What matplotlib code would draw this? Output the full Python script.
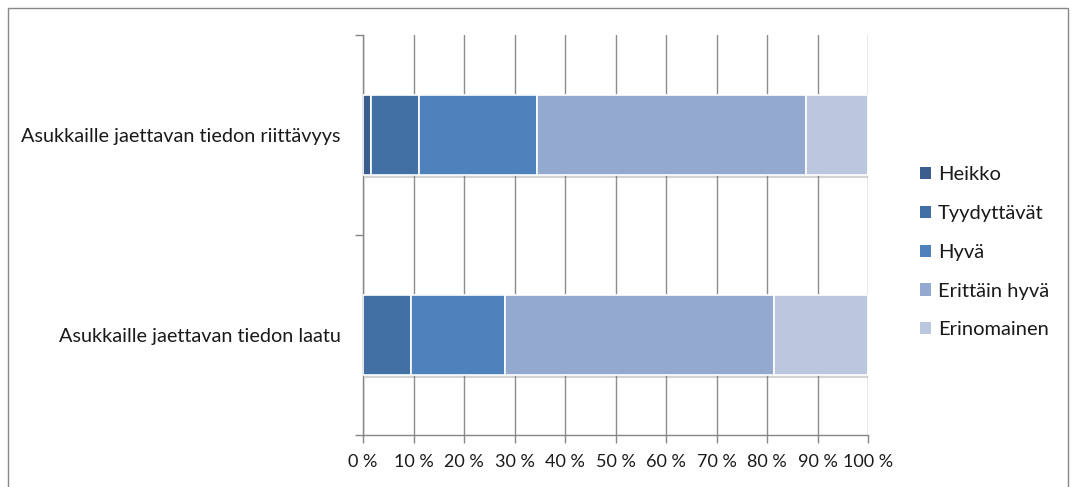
import matplotlib
matplotlib.use('Agg')
import matplotlib.pyplot as plt
import matplotlib.patheffects as pe
from matplotlib.patches import Rectangle, Patch
from matplotlib.ticker import FixedLocator

plt.rcParams['font.family'] = ['Lato', 'DejaVu Sans']

categories = ['Asukkaille jaettavan tiedon laatu',
              'Asukkaille jaettavan tiedon riittävyys']
series = ['Heikko', 'Tyydyttävät', 'Hyvä', 'Erittäin hyvä', 'Erinomainen']
# shares in percent, one list per category (laatu, riittävyys)
values = {
    'Heikko':        [0.0, 1.5],
    'Tyydyttävät':   [9.4, 9.5],
    'Hyvä':          [18.8, 23.4],
    'Erittäin hyvä': [53.2, 53.3],
    'Erinomainen':   [18.6, 12.3],
}
colors = ['#3b5e8e', '#4270a5', '#4f81bd', '#94a9cf', '#bac7df']
xticks = list(range(0, 101, 10))
txt = '#1a1a1a'

fig = plt.figure(figsize=(10.75, 4.87), dpi=100)
ax = fig.add_axes([0.3377, 0.1068, 0.4698, 0.8214])

ypos = list(range(len(categories)))
left = [0.0] * len(categories)
shadow = [pe.SimplePatchShadow(offset=(1.5, -2), shadow_rgbFace='#808080', alpha=0.35), pe.Normal()]
for name, col in zip(series, colors):
    vals = values[name]
    bars = ax.barh(ypos, vals, left=left, height=0.4, color=col, edgecolor='white',
                   linewidth=1.2, zorder=3)
    for b in bars:
        b.set_path_effects(shadow)
    left = [l + v for l, v in zip(left, vals)]

ax.set_xlim(0, 100)
ax.set_ylim(-0.5, len(categories) - 0.5)

ax.set_xticks(xticks)
ax.set_xticklabels([f'{t} %' for t in xticks], fontsize=13, color=txt)
ax.tick_params(axis='x', direction='out', length=5.5, width=1, color='#868686', pad=8)

ax.yaxis.set_major_locator(FixedLocator([-0.5, 0.5, 1.5]))
ax.yaxis.set_major_formatter(plt.NullFormatter())
ax.yaxis.set_minor_locator(FixedLocator(ypos))
ax.set_yticklabels(categories, minor=True, fontsize=14.3, color=txt)
ax.tick_params(axis='y', which='major', direction='out', length=6, width=1, color='#868686')
ax.tick_params(axis='y', which='minor', length=0, pad=16)

ax.grid(axis='x', color='#8c8c8c', linewidth=1, zorder=0)
ax.set_axisbelow(True)
for s in ['top', 'right']:
    ax.spines[s].set_visible(False)
for s in ['left', 'bottom']:
    ax.spines[s].set_color('#868686')
    ax.spines[s].set_linewidth(1)

handles = [Patch(facecolor=c, edgecolor='none') for c in colors]
leg = fig.legend(handles, series, loc='upper left', bbox_to_anchor=(0.848, 0.675),
                 frameon=False, fontsize=14.5, handlelength=0.55, handleheight=0.55,
                 handletextpad=0.35, labelspacing=1.08, borderaxespad=0)
for t in leg.get_texts():
    t.set_color(txt)

# outer frame
fig.patches.append(Rectangle((8 / 1075, -0.1), 1060 / 1075, 1.1 - 8 / 487, transform=fig.transFigure,
                             fill=False, edgecolor='#888888', linewidth=1))

fig.savefig('out.png', dpi=100)
